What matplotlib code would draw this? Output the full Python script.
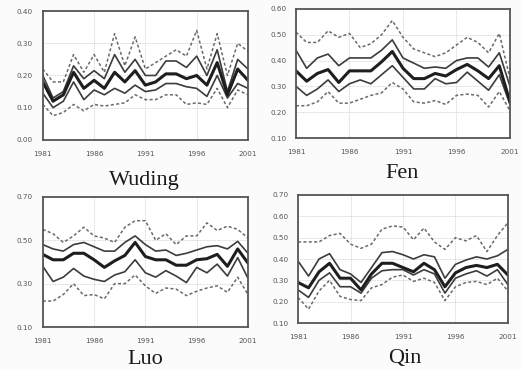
import numpy as np
import matplotlib.pyplot as plt

years = np.arange(1981, 2002)

# Wuding
wuding_hi = [0.22, 0.18, 0.18, 0.265, 0.21, 0.265, 0.21, 0.33, 0.23, 0.32, 0.22,
             0.24, 0.26, 0.28, 0.26, 0.34, 0.22, 0.33, 0.20, 0.30, 0.275]
wuding_up = [0.20, 0.13, 0.15, 0.23, 0.19, 0.215, 0.19, 0.265, 0.21, 0.25, 0.20,
             0.20, 0.245, 0.245, 0.225, 0.26, 0.20, 0.28, 0.15, 0.25, 0.22]
wuding_mid = [0.18, 0.12, 0.14, 0.21, 0.16, 0.185, 0.16, 0.21, 0.18, 0.215, 0.17,
              0.18, 0.205, 0.205, 0.19, 0.20, 0.17, 0.24, 0.14, 0.22, 0.185]
wuding_low = [0.145, 0.10, 0.12, 0.18, 0.125, 0.155, 0.14, 0.16, 0.145, 0.17, 0.15,
              0.155, 0.175, 0.175, 0.165, 0.16, 0.135, 0.20, 0.13, 0.175, 0.16]
wuding_lo = [0.11, 0.075, 0.085, 0.11, 0.09, 0.11, 0.105, 0.11, 0.115, 0.14, 0.125,
             0.125, 0.14, 0.14, 0.11, 0.115, 0.11, 0.16, 0.10, 0.155, 0.14]

# Fen
fen_hi = [0.51, 0.47, 0.47, 0.515, 0.49, 0.505, 0.45, 0.465, 0.50, 0.555, 0.49,
          0.445, 0.43, 0.415, 0.43, 0.46, 0.49, 0.47, 0.43, 0.505, 0.33]
fen_up = [0.44, 0.37, 0.41, 0.425, 0.38, 0.41, 0.41, 0.41, 0.44, 0.48, 0.41,
          0.39, 0.37, 0.375, 0.37, 0.40, 0.41, 0.41, 0.375, 0.43, 0.30]
fen_mid = [0.36, 0.32, 0.35, 0.365, 0.315, 0.36, 0.36, 0.36, 0.395, 0.435, 0.37,
           0.33, 0.33, 0.35, 0.34, 0.365, 0.385, 0.36, 0.33, 0.38, 0.24]
fen_low = [0.30, 0.265, 0.29, 0.325, 0.28, 0.31, 0.325, 0.31, 0.345, 0.38, 0.335,
           0.29, 0.29, 0.33, 0.31, 0.315, 0.355, 0.32, 0.285, 0.345, 0.23]
fen_lo = [0.225, 0.225, 0.24, 0.28, 0.235, 0.235, 0.25, 0.265, 0.275, 0.315, 0.29,
          0.24, 0.235, 0.245, 0.23, 0.265, 0.27, 0.265, 0.22, 0.28, 0.205]

# Luo
luo_hi = [0.55, 0.53, 0.49, 0.52, 0.56, 0.52, 0.51, 0.49, 0.56, 0.59, 0.59,
          0.50, 0.53, 0.48, 0.52, 0.52, 0.58, 0.545, 0.565, 0.55, 0.51]
luo_up = [0.48, 0.46, 0.45, 0.48, 0.49, 0.47, 0.45, 0.45, 0.49, 0.52, 0.48,
          0.45, 0.455, 0.43, 0.44, 0.455, 0.47, 0.475, 0.46, 0.495, 0.44]
luo_mid = [0.435, 0.41, 0.41, 0.44, 0.44, 0.41, 0.375, 0.405, 0.43, 0.49, 0.425,
           0.41, 0.41, 0.385, 0.385, 0.41, 0.415, 0.435, 0.38, 0.46, 0.395]
luo_low = [0.38, 0.31, 0.33, 0.37, 0.335, 0.32, 0.31, 0.34, 0.355, 0.41, 0.35,
           0.33, 0.36, 0.335, 0.305, 0.375, 0.35, 0.39, 0.335, 0.42, 0.325]
luo_lo = [0.22, 0.22, 0.25, 0.30, 0.245, 0.25, 0.23, 0.30, 0.30, 0.34, 0.29,
          0.255, 0.28, 0.275, 0.245, 0.265, 0.28, 0.29, 0.26, 0.33, 0.25]

# Qin
qin_hi = [0.48, 0.48, 0.48, 0.51, 0.52, 0.47, 0.45, 0.47, 0.54, 0.555, 0.55,
          0.49, 0.545, 0.48, 0.445, 0.50, 0.485, 0.51, 0.435, 0.51, 0.57]
qin_up = [0.39, 0.32, 0.40, 0.425, 0.35, 0.33, 0.29, 0.36, 0.43, 0.435, 0.42,
          0.40, 0.42, 0.41, 0.31, 0.375, 0.395, 0.41, 0.40, 0.415, 0.445]
qin_mid = [0.29, 0.265, 0.34, 0.38, 0.31, 0.31, 0.255, 0.33, 0.38, 0.38, 0.36,
           0.34, 0.38, 0.35, 0.27, 0.335, 0.36, 0.37, 0.36, 0.375, 0.325]
qin_low = [0.255, 0.22, 0.30, 0.335, 0.27, 0.27, 0.24, 0.31, 0.345, 0.35, 0.35,
           0.325, 0.35, 0.33, 0.24, 0.31, 0.33, 0.345, 0.32, 0.35, 0.28]
qin_lo = [0.22, 0.165, 0.25, 0.30, 0.225, 0.21, 0.205, 0.265, 0.28, 0.315, 0.325,
          0.295, 0.31, 0.29, 0.205, 0.27, 0.29, 0.295, 0.28, 0.31, 0.25]

panels = [
    ("Wuding", [0.082, 0.622, 0.393, 0.348], (0.0, 0.4), np.arange(0.0, 0.41, 0.1),
     (wuding_hi, wuding_up, wuding_mid, wuding_low, wuding_lo), (144, 181)),
    ("Fen", [0.567, 0.627, 0.410, 0.349], (0.1, 0.6), np.arange(0.1, 0.61, 0.1),
     (fen_hi, fen_up, fen_mid, fen_low, fen_lo), (402, 173)),
    ("Luo", [0.082, 0.116, 0.393, 0.352], (0.1, 0.7), np.arange(0.1, 0.71, 0.2),
     (luo_hi, luo_up, luo_mid, luo_low, luo_lo), (145, 359)),
    ("Qin", [0.571, 0.127, 0.402, 0.346], (0.1, 0.7), np.arange(0.1, 0.71, 0.1),
     (qin_hi, qin_up, qin_mid, qin_low, qin_lo), (405, 359)),
]

fig = plt.figure(figsize=(5.22, 3.70), dpi=100)
fig.patch.set_facecolor("#fbfbfb")

for name, rect, ylim, yticks, series, (tx, ty) in panels:
    ax = fig.add_axes(rect)
    ax.set_facecolor("white")
    hi, up, mid, low, lo = series
    ax.plot(years, hi, color="#6a6a6a", lw=1.1, ls=(0, (2, 1.5)))
    ax.plot(years, lo, color="#6a6a6a", lw=1.1, ls=(0, (2, 1.5)))
    ax.plot(years, up, color="#3c3c3c", lw=1.2)
    ax.plot(years, low, color="#3c3c3c", lw=1.2)
    ax.plot(years, mid, color="#1e1e1e", lw=2.2)
    ax.set_xlim(1981, 2001)
    ax.set_ylim(*ylim)
    ax.set_xticks([1981, 1986, 1991, 1996, 2001])
    ax.set_yticks(yticks)
    ax.set_yticklabels(["%.2f" % v for v in yticks])
    ax.grid(True, color="#cccccc", lw=0.6, ls=(0, (1, 1)))
    ax.tick_params(length=0, labelsize=5.2, labelcolor="#555555")
    ax.tick_params(axis="x", pad=8)
    ax.tick_params(axis="y", pad=7)
    for s in ax.spines.values():
        s.set_color("#555555")
        s.set_linewidth(1.3)
    fig.text(tx / 522, 1 - ty / 370, name, ha="center", va="center",
             fontsize=16, family="Liberation Serif", color="#1a1a1a")

fig.savefig("out.png", dpi=100, facecolor=fig.get_facecolor())
